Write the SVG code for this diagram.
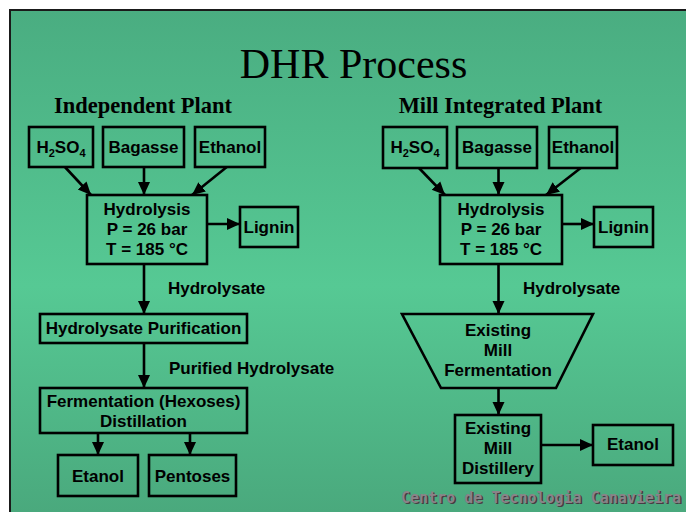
<svg xmlns="http://www.w3.org/2000/svg" width="686" height="512" viewBox="0 0 686 512">
<defs>
<linearGradient id="bg" gradientUnits="userSpaceOnUse" x1="0" y1="10" x2="0" y2="512">
<stop offset="0" stop-color="#4aad81"/>
<stop offset="0.55" stop-color="#56c994"/>
<stop offset="1" stop-color="#4aa97d"/>
</linearGradient>
<marker id="ah" markerUnits="userSpaceOnUse" markerWidth="14" markerHeight="14" viewBox="0 0 14 14" refX="13" refY="7" orient="auto">
<path d="M0,1 L13,7 L0,13 Z" fill="#000"/>
</marker>
<style>
.box{fill:url(#bg);stroke:#000;stroke-width:2.6}
.t{font-family:"Liberation Sans",Arial,sans-serif;font-weight:bold;font-size:17px;fill:#000;text-anchor:middle}
.l{font-family:"Liberation Sans",Arial,sans-serif;font-weight:bold;font-size:17px;fill:#000}
.h{font-family:"Liberation Serif","Times New Roman",serif;font-weight:bold;font-size:22.5px;fill:#000;text-anchor:middle}
.e{stroke:#000;stroke-width:2.6;fill:none;marker-end:url(#ah)}
.sub{font-size:11px}
.wm{font-family:"DejaVu Sans Mono",monospace;font-weight:bold;font-size:15px}
</style>
</defs>
<rect x="0" y="0" width="686" height="512" fill="#fff"/>
<rect x="10" y="10" width="690" height="520" fill="url(#bg)" stroke="#1a1a1a" stroke-width="2"/>
<text x="353.5" y="78" font-family="Liberation Serif,'Times New Roman',serif" font-size="42" text-anchor="middle" fill="#000">DHR Process</text>
<text class="h" x="143" y="113">Independent Plant</text>
<text class="h" x="500.5" y="113">Mill Integrated Plant</text>

<g id="connectors">
<line class="e" x1="64" y1="166" x2="91" y2="195"/>
<line class="e" x1="144" y1="166" x2="144" y2="195"/>
<line class="e" x1="228" y1="166" x2="192" y2="195"/>
<line class="e" x1="207" y1="224" x2="240" y2="224"/>
<line class="e" x1="144" y1="264" x2="144" y2="314"/>
<text class="l" x="168" y="294">Hydrolysate</text>
<line class="e" x1="144" y1="343" x2="144" y2="388"/>
<text class="l" x="169" y="374">Purified Hydrolysate</text>
<line class="e" x1="98" y1="433" x2="98" y2="455"/>
<line class="e" x1="190" y1="433" x2="190" y2="455"/>

<line class="e" x1="418" y1="167" x2="445" y2="195"/>
<line class="e" x1="498.5" y1="167" x2="498.5" y2="195"/>
<line class="e" x1="582" y1="167" x2="546" y2="195"/>
<line class="e" x1="562" y1="224" x2="594" y2="224"/>
<line class="e" x1="498.5" y1="264" x2="498.5" y2="314"/>
<text class="l" x="523" y="294">Hydrolysate</text>
<line class="e" x1="498.5" y1="388" x2="498.5" y2="415"/>
<line class="e" x1="541" y1="445" x2="593" y2="445"/>
</g>

<g id="l-h2so4"><rect class="box" x="29" y="127" width="64" height="40"/><text class="t" x="61" y="153">H<tspan class="sub" dy="4">2</tspan><tspan dy="-4">SO</tspan><tspan class="sub" dy="4">4</tspan></text></g>
<g id="l-bagasse"><rect class="box" x="103" y="127" width="81" height="40"/><text class="t" x="143.5" y="153">Bagasse</text></g>
<g id="l-ethanol"><rect class="box" x="195" y="127" width="70" height="40"/><text class="t" x="230" y="153">Ethanol</text></g>
<g id="l-hydrolysis"><rect class="box" x="87" y="195" width="120" height="69"/><text class="t" x="147" y="215">Hydrolysis</text><text class="t" x="147" y="235">P = 26 bar</text><text class="t" x="147" y="255">T = 185 °C</text></g>
<g id="l-lignin"><rect class="box" x="240" y="207" width="58" height="40"/><text class="t" x="269" y="233">Lignin</text></g>
<g id="l-purification"><rect class="box" x="40" y="314" width="207" height="29"/><text class="t" x="143.5" y="334">Hydrolysate Purification</text></g>
<g id="l-fermentation"><rect class="box" x="40" y="388" width="207" height="45"/><text class="t" x="143.5" y="407">Fermentation (Hexoses)</text><text class="t" x="143.5" y="427">Distillation</text></g>
<g id="l-etanol"><rect class="box" x="58" y="455" width="80" height="41"/><text class="t" x="98" y="482">Etanol</text></g>
<g id="l-pentoses"><rect class="box" x="149" y="455" width="87" height="41"/><text class="t" x="192.5" y="482">Pentoses</text></g>

<g id="r-h2so4"><rect class="box" x="383" y="127" width="64" height="41"/><text class="t" x="415" y="153">H<tspan class="sub" dy="4">2</tspan><tspan dy="-4">SO</tspan><tspan class="sub" dy="4">4</tspan></text></g>
<g id="r-bagasse"><rect class="box" x="457" y="127" width="80" height="41"/><text class="t" x="497" y="153">Bagasse</text></g>
<g id="r-ethanol"><rect class="box" x="549" y="127" width="68" height="41"/><text class="t" x="583" y="153">Ethanol</text></g>
<g id="r-hydrolysis"><rect class="box" x="440" y="195" width="122" height="69"/><text class="t" x="501" y="215">Hydrolysis</text><text class="t" x="501" y="235">P = 26 bar</text><text class="t" x="501" y="255">T = 185 °C</text></g>
<g id="r-lignin"><rect class="box" x="594" y="207" width="59" height="40"/><text class="t" x="623.5" y="233">Lignin</text></g>
<g id="r-fermentation"><path class="box" d="M402,314 L593,314 L556,388 L441,388 Z"/><text class="t" x="498" y="336">Existing</text><text class="t" x="498" y="356">Mill</text><text class="t" x="498" y="376">Fermentation</text></g>
<g id="r-distillery"><rect class="box" x="455" y="415" width="86" height="68"/><text class="t" x="498" y="434">Existing</text><text class="t" x="498" y="454">Mill</text><text class="t" x="498" y="474">Distillery</text></g>
<g id="r-etanol"><rect class="box" x="593" y="425" width="80" height="40"/><text class="t" x="633" y="450">Etanol</text></g>

<text class="wm" x="402.5" y="504" fill="#463c44">Centro de Tecnologia Canavieira</text>
<text class="wm" x="401" y="502.5" fill="#8a8288">Centro de Tecnologia Canavieira</text>
</svg>
